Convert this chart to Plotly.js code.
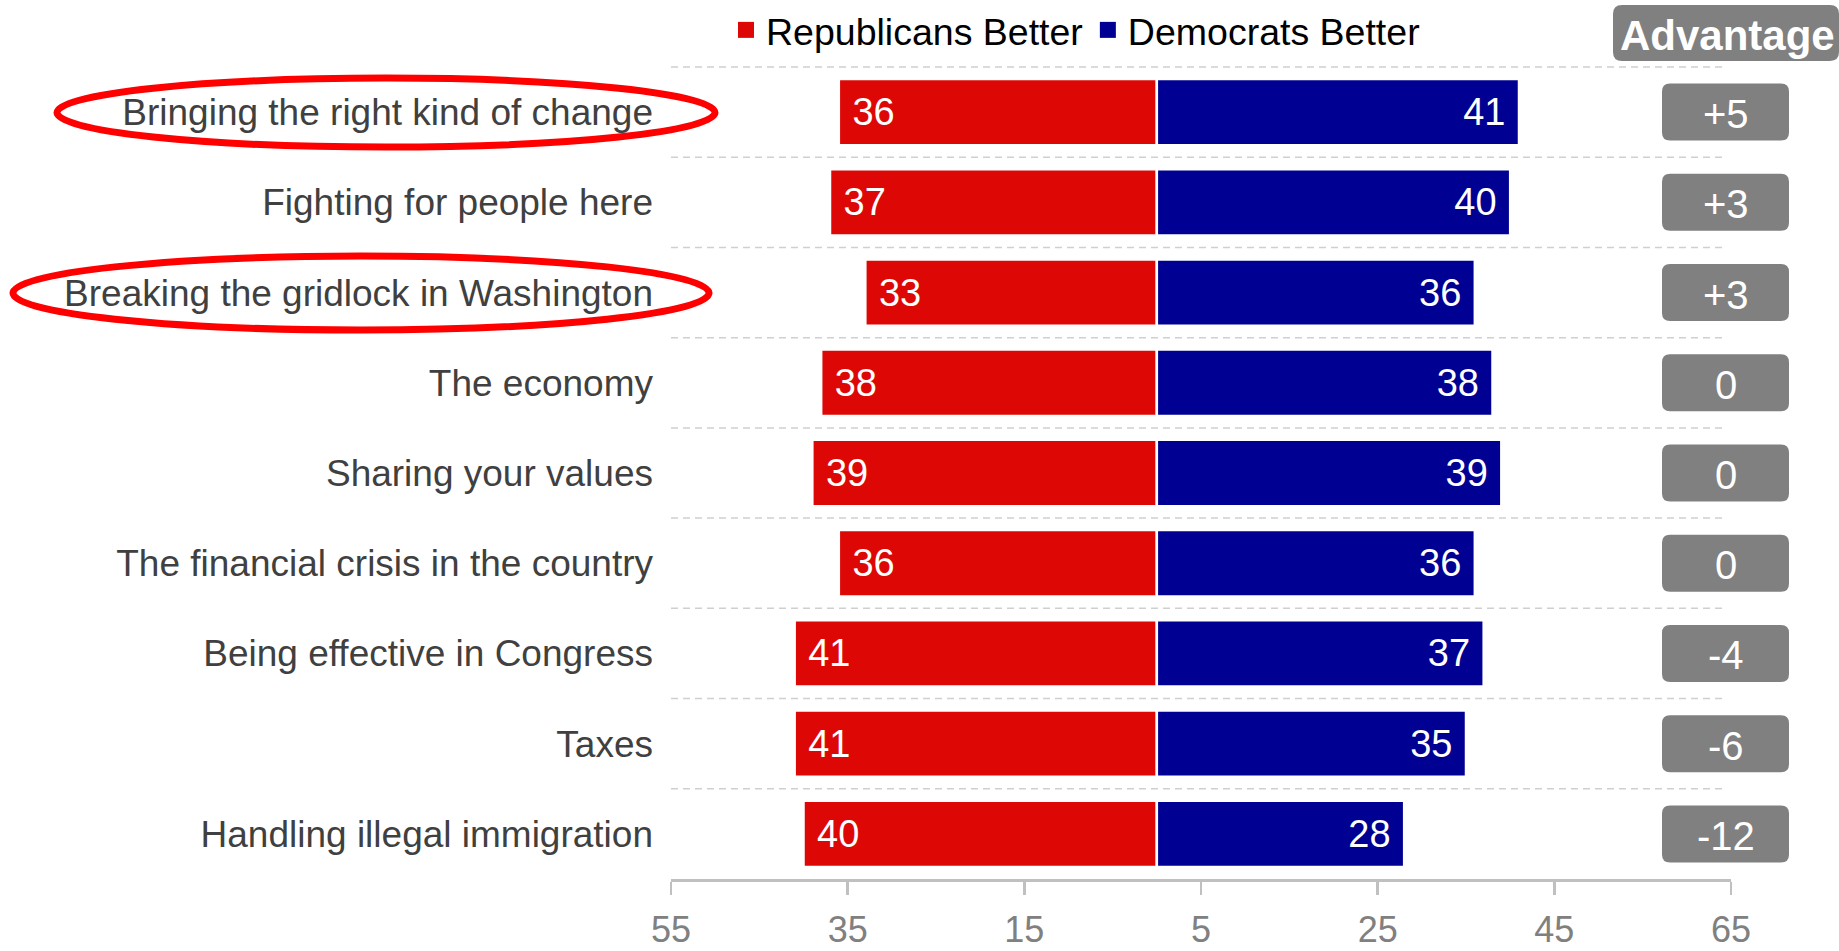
<!DOCTYPE html>
<html>
<head>
<meta charset="utf-8">
<script src="https://cdn.plot.ly/plotly-3.0.1.min.js"></script>
<style>html,body{margin:0;padding:0;background:#fff;}#chart{width:1839px;height:951px;}</style>
</head>
<body>
<div id="chart"></div>
<script>
// ---- data ----
const categories = [
  'Bringing the right kind of change',
  'Fighting for people here',
  'Breaking the gridlock in Washington',
  'The economy',
  'Sharing your values',
  'The financial crisis in the country',
  'Being effective in Congress',
  'Taxes',
  'Handling illegal immigration'
];
const republicans = [36, 37, 33, 38, 39, 36, 41, 41, 40];
const democrats   = [41, 40, 36, 38, 39, 36, 37, 35, 28];
const advantage   = ['+5', '+3', '+3', '0', '0', '0', '-4', '-6', '-12'];
const tickVals = [-55, -35, -15, 5, 25, 45, 65];
const tickText = ['55', '35', '15', '5', '25', '45', '65'];
const highlighted = ['Bringing the right kind of change', 'Breaking the gridlock in Washington'];
const seriesNames = ['Republicans Better', 'Democrats Better'];

// ---- geometry helpers (pixel -> paper) ----
const L = 671, R = 1731, T = 67, B = 879;
const W = R - L, H = B - T, N = categories.length;
const px = v => (v - L) / W;
const py = v => 1 - (v - T) / H;
const rowY = i => T + (i + 0.5) * H / N;
const f = v => v.toFixed(6);

function rrect(x0, y0, x1, y1, r) {
  const X = v => f(px(v)), Y = v => f(py(v));
  return 'M' + X(x0 + r) + ',' + Y(y0) +
    ' L' + X(x1 - r) + ',' + Y(y0) +
    ' Q' + X(x1) + ',' + Y(y0) + ' ' + X(x1) + ',' + Y(y0 + r) +
    ' L' + X(x1) + ',' + Y(y1 - r) +
    ' Q' + X(x1) + ',' + Y(y1) + ' ' + X(x1 - r) + ',' + Y(y1) +
    ' L' + X(x0 + r) + ',' + Y(y1) +
    ' Q' + X(x0) + ',' + Y(y1) + ' ' + X(x0) + ',' + Y(y1 - r) +
    ' L' + X(x0) + ',' + Y(y0 + r) +
    ' Q' + X(x0) + ',' + Y(y0) + ' ' + X(x0 + r) + ',' + Y(y0) + ' Z';
}

const RED = '#dd0806', BLUE = '#000092', GRAY = '#808080';
const FONT = 'Liberation Sans, Arial, sans-serif';

const traces = [
  {
    type: 'bar', orientation: 'h', name: seriesNames[0], showlegend: false,
    y: categories, x: republicans.map(v => -v),
    text: republicans.map(String), texttemplate: '\u00A0%{text}',
    textposition: 'inside', insidetextanchor: 'end', textangle: 0, constraintext: 'none',
    textfont: {family: FONT, size: 38, color: '#ffffff'},
    marker: {color: RED, line: {color: '#ffffff', width: 2.5}},
    hoverinfo: 'skip'
  },
  {
    type: 'bar', orientation: 'h', name: seriesNames[1], showlegend: false,
    y: categories, x: democrats,
    text: democrats.map(String), texttemplate: '%{text}\u00A0',
    textposition: 'inside', insidetextanchor: 'end', textangle: 0, constraintext: 'none',
    textfont: {family: FONT, size: 38, color: '#ffffff'},
    marker: {color: BLUE, line: {color: '#ffffff', width: 2.5}},
    hoverinfo: 'skip'
  },
  // legend entries (square keys like the reference)
  {type: 'scatter', mode: 'markers', name: seriesNames[0], x: [null], y: [null],
   marker: {symbol: 'square', size: 16, color: RED}, hoverinfo: 'skip'},
  {type: 'scatter', mode: 'markers', name: seriesNames[1], x: [null], y: [null],
   marker: {symbol: 'square', size: 16, color: BLUE}, hoverinfo: 'skip'}
];

const shapes = [];
const annotations = [];

// dashed separators between rows
for (let i = 0; i < N; i++) {
  shapes.push({
    type: 'line', layer: 'below', xref: 'x', yref: 'paper',
    x0: tickVals[0], x1: 64, y0: 1 - i / N, y1: 1 - i / N,
    line: {color: '#d0d0d0', width: 1.5, dash: '7px,5px'}
  });
}

// advantage header
shapes.push({type: 'path', xref: 'paper', yref: 'paper', layer: 'above',
  path: rrect(1613, 5, 1839, 61, 9), fillcolor: GRAY, line: {width: 0}});
annotations.push({xref: 'paper', yref: 'paper', x: px(1727), y: py(35), xanchor: 'center', yanchor: 'middle',
  text: '<b>Advantage</b>', showarrow: false, font: {family: FONT, size: 42, color: '#ffffff'}});

// advantage boxes
advantage.forEach((t, i) => {
  const c = rowY(i);
  shapes.push({type: 'path', xref: 'paper', yref: 'paper', layer: 'above',
    path: rrect(1662, c - 28.5, 1789, c + 28.5, 8), fillcolor: GRAY, line: {width: 0}});
  annotations.push({xref: 'paper', yref: 'paper', x: px(1725.5), y: py(c + 2), xanchor: 'center', yanchor: 'middle',
    text: t, showarrow: false, font: {family: FONT, size: 40, color: '#ffffff'}});
});

// red highlight ellipses around selected labels
const ellipseSpan = [[57, 715, 34.5], [13, 709, 37]];
highlighted.forEach((name, k) => {
  const i = categories.indexOf(name);
  const c = rowY(i) + 0.5;
  const s = ellipseSpan[k];
  shapes.push({type: 'circle', xref: 'paper', yref: 'paper', layer: 'above',
    x0: px(s[0]), x1: px(s[1]), y0: py(c + s[2]), y1: py(c - s[2]),
    line: {color: '#ff0000', width: 7}, fillcolor: 'rgba(0,0,0,0)'});
});

const layout = {
  width: 1839, height: 951,
  margin: {l: L, r: 1839 - R, t: T, b: 951 - B, pad: 0, autoexpand: false},
  paper_bgcolor: '#ffffff', plot_bgcolor: '#ffffff',
  font: {family: FONT, size: 36, color: '#404040'},
  barmode: 'relative', bargap: 0.265,
  showlegend: true,
  legend: {orientation: 'h', x: px(726), xanchor: 'left', y: py(30), yanchor: 'middle',
    font: {family: FONT, size: 37.5, color: '#000000'}, bgcolor: 'rgba(0,0,0,0)', traceorder: 'normal'},
  xaxis: {
    range: [tickVals[0], tickVals[tickVals.length - 1]], tickmode: 'array',
    tickvals: tickVals, ticktext: tickText,
    showgrid: false, zeroline: false, showline: true, linecolor: '#c0c0c0', linewidth: 3,
    ticks: 'outside', ticklen: 13, tickwidth: 2.5, tickcolor: '#c0c0c0',
    tickfont: {family: FONT, size: 36, color: '#808080'}, ticklabelstandoff: 4,
    automargin: false, fixedrange: true
  },
  yaxis: {
    type: 'category', categoryorder: 'array', categoryarray: categories,
    range: [N - 0.5, -0.5],
    showgrid: false, zeroline: false, showline: false, ticks: '',
    tickfont: {family: FONT, size: 37, color: '#404040'}, ticklabelstandoff: 17,
    automargin: false, fixedrange: true
  },
  shapes: shapes,
  annotations: annotations
};

Plotly.newPlot('chart', traces, layout, {displayModeBar: false, staticPlot: true});
</script>
</body>
</html>
